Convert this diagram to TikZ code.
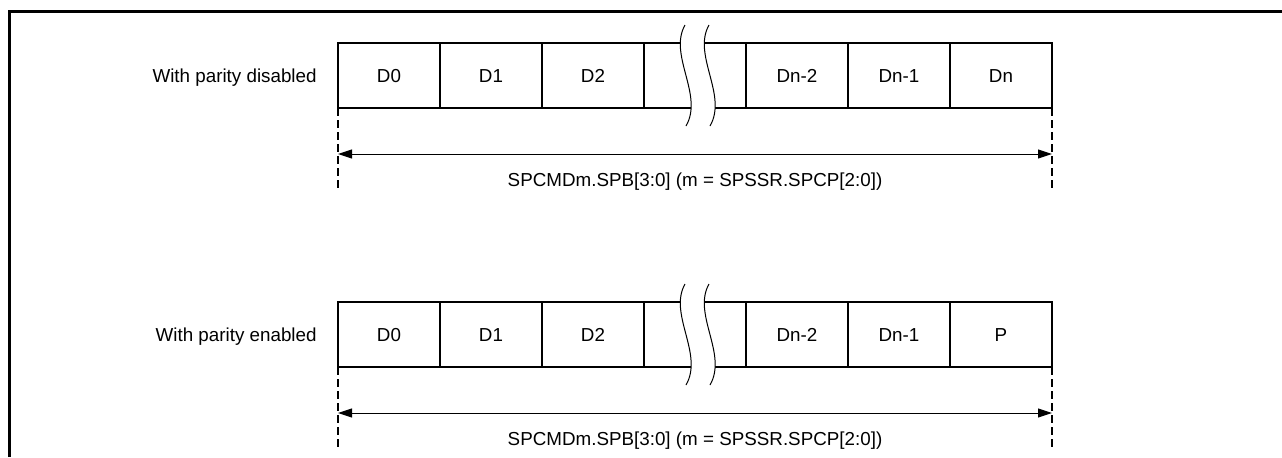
\documentclass[tikz,border=0pt]{standalone}
\usepackage{fontspec}
\setmainfont{Liberation Sans}
\usetikzlibrary{arrows.meta,positioning}
\tikzset{
  fr diagram/.style={font=\fontsize{9.4}{11.3}\selectfont, line join=miter},
  fr cell/.style={draw, line width=1pt, minimum width=51pt,
    minimum height=32.5pt, inner sep=0pt, outer sep=0pt,
    text height=6.9pt, text depth=0pt},
  fr frame/.style={line width=1.5pt},
  fr guide/.style={line width=1pt, dash pattern=on 4pt off 2pt},
  fr arrow/.style={{Triangle[length=7pt,width=4.5pt]}-{Triangle[length=7pt,width=4.5pt]},
    line width=0.5pt},
  fr wave/.style={line width=0.5pt},
  fr label/.style={inner sep=0pt}
}
\begin{document}
\begin{tikzpicture}[fr diagram,x=0.5pt,y=-0.5pt]
\useasboundingbox (0,0) rectangle (1282,457);
\draw[fr frame] (9.5,457) -- (9.5,11.5) -- (1282,11.5);
\foreach \row/\dy/\last/\mode in {0/0/Dn/disabled,1/259/P/enabled}{
  % frame cells
  \node[fr cell] (c0-\row) at (389,{75.5+\dy}) {D0};
  \node[fr cell,right=0pt of c0-\row] (c1-\row) {D1};
  \node[fr cell,right=0pt of c1-\row] (c2-\row) {D2};
  \node[fr cell,right=0pt of c2-\row] (c3-\row) {};
  \node[fr cell,right=0pt of c3-\row] (c4-\row) {Dn-2};
  \node[fr cell,right=0pt of c4-\row] (c5-\row) {Dn-1};
  \node[fr cell,right=0pt of c5-\row] (c6-\row) {\last};
  \node[fr label,base left=10.5pt of c0-\row] (mode-\row) {With parity \mode};
  % break mark
  \begin{scope}[shift={(c3-\row.center)}]
    \fill[white] (-10,-50.5) .. controls (-27,-20.5) and (9,19.5) .. (-9,50.5)
      -- (15,50.5) .. controls (33,19.5) and (-3,-20.5) .. (14,-50.5) -- cycle;
    \draw[fr wave] (-10,-50.5) .. controls (-27,-20.5) and (9,19.5) .. (-9,50.5);
    \draw[fr wave] (14,-50.5) .. controls (-3,-20.5) and (33,19.5) .. (15,50.5);
  \end{scope}
  % length
  \coordinate (gl-\row) at ([yshift=-40pt]c0-\row.south west);
  \coordinate (gr-\row) at ([yshift=-40pt]c6-\row.south east);
  \draw[fr guide] (c0-\row.south west) -- (gl-\row);
  \draw[fr guide] (c6-\row.south east) -- (gr-\row);
  \coordinate (al-\row) at ([yshift=-23pt]c0-\row.south west);
  \coordinate (ar-\row) at ([yshift=-23pt]c6-\row.south east);
  \draw[fr arrow] (al-\row) -- (ar-\row);
  \node[fr label,anchor=base] (len-\row) at ([yshift=-55.6pt]c3-\row.center)
    {SPCMDm.SPB[3:0] (m = SPSSR.SPCP[2:0])};
}
\end{tikzpicture}
\end{document}
